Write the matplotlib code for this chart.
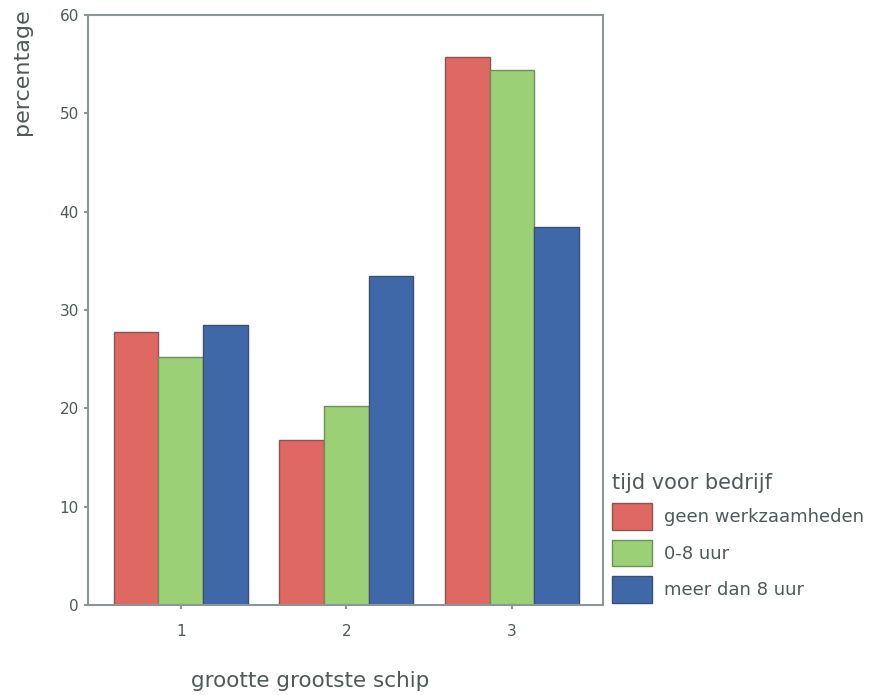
import numpy as np
import matplotlib
matplotlib.use("Agg")
import matplotlib.pyplot as plt
from matplotlib.patches import Patch

plt.rcParams["font.family"] = ["DejaVu Sans", "sans-serif"]

# Data
groups = ["1", "2", "3"]
series_names = ["geen werkzaamheden", "0-8 uur", "meer dan 8 uur"]
geen = [27.8, 16.8, 55.7]
nul_acht = [25.2, 20.2, 54.4]
meer = [28.5, 33.5, 38.4]
yticks = [0, 10, 20, 30, 40, 50, 60]

colors = ["#df6862", "#9bd077", "#3f68a8"]
edges = ["#8a5654", "#6e8f5c", "#3a4f73"]
text_col = "#505858"
spine_col = "#8c9696"

fig = plt.figure(figsize=(8.81, 6.95), dpi=100)
ax = fig.add_axes([88 / 881, 1 - 605 / 695, (603 - 88) / 881, (605 - 15) / 695])

x = np.arange(1, len(groups) + 1)
w = 0.27
for i, (vals, c, e) in enumerate(zip([geen, nul_acht, meer], colors, edges)):
    ax.bar(x + (i - 1) * w, vals, width=w, color=c, edgecolor=e, linewidth=1.0)

ax.set_xlim(0.44, 3.55)
ax.set_ylim(0, 60)
ax.set_yticks(yticks)
ax.set_xticks(x)
ax.set_xticklabels(groups)
for s in ax.spines.values():
    s.set_color(spine_col)
    s.set_linewidth(1.5)
ax.tick_params(axis="both", colors=spine_col, labelcolor=text_col, labelsize=11,
               length=3, width=1.5, direction="out")
ax.tick_params(axis="x", pad=11)

fig.text(22 / 881, 1 - 72 / 695, "percentage", rotation=90, ha="center", va="center",
         fontsize=16, color=text_col)
fig.text(310 / 881, 1 - 681 / 695, "grootte grootste schip", ha="center", va="center",
         fontsize=15.5, color=text_col)

handles = [Patch(facecolor=c, edgecolor=e) for c, e in zip(colors, edges)]
leg = fig.legend(handles, series_names, title="tijd voor bedrijf",
                 loc="upper left", bbox_to_anchor=(612 / 881, 1 - 473 / 695),
                 frameon=False, fontsize=13, title_fontsize=15,
                 handlelength=2.2, handleheight=1.9, handletextpad=0.7,
                 labelspacing=0.55, borderaxespad=0, borderpad=0)
leg._legend_box.align = "left"
for t in leg.get_texts():
    t.set_color(text_col)
leg.get_title().set_color(text_col)

plt.savefig("out.png", dpi=100)
